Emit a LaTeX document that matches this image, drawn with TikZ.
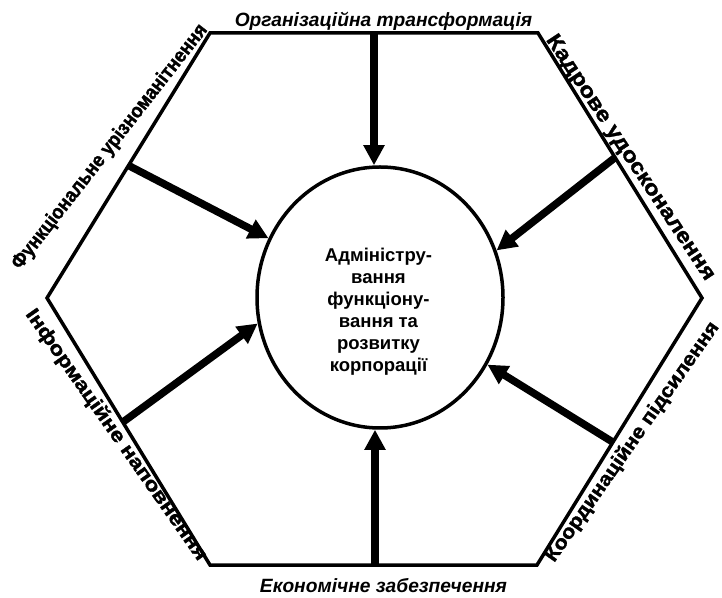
\documentclass[tikz,border=0pt]{standalone}
\usepackage{graphicx}
\usepackage{fontspec}
\setmainfont{Liberation Sans}
\newfontfamily\sidefont[BoldFeatures={FakeBold=1.5}]{Liberation Sans}
\usetikzlibrary{%
    arrows.meta,calc,shapes.geometric%
}
\newcommand{\sidetext}[2]{\resizebox{#1pt}{14.5pt}{\sidefont\bfseries #2}}

\begin{document}
\begin{tikzpicture}[x=1pt,y=1pt,
    hexline/.style={line width=3.5pt},
    push/.style={line width=7.5pt,-{Triangle[length=20pt,width=20pt]}},
    side/.style={inner sep=0pt},
    edgelbl/.style={font=\fontsize{19.2}{22}\selectfont\bfseries\itshape,inner sep=0pt}]
\useasboundingbox (0,0) rectangle (722,597);

\coordinate (TL) at (210,564); \coordinate (TR) at (538,564); \coordinate (R) at (702,299);
\coordinate (BR) at (537,32); \coordinate (BL) at (210,32); \coordinate (L) at (47,299);
\draw[hexline] (TL)--(TR)--(R)--(BR)--(BL)--(L)--cycle;

\node[ellipse,draw,line width=3.5pt,minimum width=246pt,minimum height=261pt,inner sep=0pt] (c) at (380,299.5) {};
\node[align=center,font=\fontsize{18.5}{22}\selectfont\bfseries,inner sep=0pt] (adm) at (378.5,285)
    {Адміністру-\\вання\\функціону-\\вання та\\розвитку\\корпорації};

\coordinate (t) at (374,564); \coordinate (b) at (375,32);
\coordinate (ul) at ($(L)!0.5!(TL)$); \coordinate (ur) at ($(TR)!0.47!(R)$);
\coordinate (ll) at ($(L)!0.465!(BL)$); \coordinate (lr) at ($(R)!0.54!(BR)$);
\draw[push] (t) -- (t |- c.north);
\draw[push] (b) -- (b |- c.south);
\draw[push] (ul) -- (c.152.6);
\draw[push] (ur) -- (c.22.4);
\draw[push] (ll) -- (c.192.2);
\draw[push] (lr) -- (c.328);

\node[edgelbl,anchor=base] (org) at (383.5,570) {Організаційна трансформація};
\node[edgelbl,anchor=base] (eko) at (383.5,5) {Економічне забезпечення};

\node[side,rotate=52] (fun) at (110,450) {\sidetext{305}{Функціональне урізноманітнення}};
\node[side,rotate=-56.5] (kad) at (630,439) {\sidetext{290}{Кадрове удосконалення}};
\node[side,rotate=-55] (inf) at (116,162) {\sidetext{302}{Інформаційне наповнення}};
\node[side,rotate=55] (koo) at (632.5,155) {\sidetext{288}{Координаційне підсилення}};
\end{tikzpicture}
\end{document}
